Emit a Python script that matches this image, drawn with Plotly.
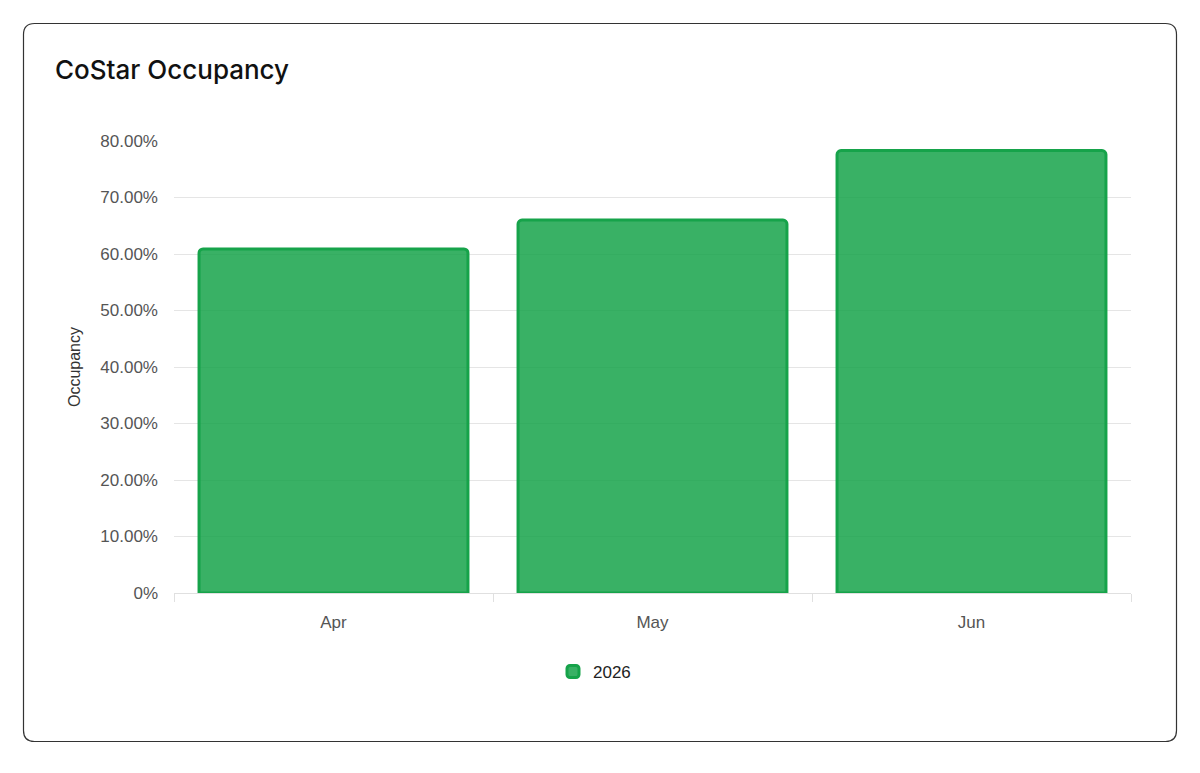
import plotly.graph_objects as go

months = ["Apr", "May", "Jun"]
occupancy_2026 = [0.609, 0.660, 0.783]
y_ticks = [0, 0.1, 0.2, 0.3, 0.4, 0.5, 0.6, 0.7, 0.8]
y_tick_text = ["0%", "10.00%", "20.00%", "30.00%", "40.00%", "50.00%", "60.00%", "70.00%", "80.00%"]

# the page body has an 8px margin, so the figure is 16px smaller and offset
OFF = 8
W, H = 1200 - 2 * OFF, 773 - 2 * OFF
L, R, T, B = 174 - OFF, W - (1131 - OFF), 141 - OFF, H - (593 - OFF)
pw, ph = W - L - R, H - T - B


def px_x(x):
    return (x - OFF - L) / pw


def px_y(y):
    return (H - B - (y - OFF)) / ph


def card_path(x0, y0, x1, y1, r):
    # rounded rectangle in paper coords, corners sized in pixels
    rx, ry = r / pw, r / ph
    a, b, c, d = px_x(x0), px_y(y1), px_x(x1), px_y(y0)
    return (f"M{a+rx},{b} L{c-rx},{b} Q{c},{b} {c},{b+ry} L{c},{d-ry} "
            f"Q{c},{d} {c-rx},{d} L{a+rx},{d} Q{a},{d} {a},{d-ry} "
            f"L{a},{b+ry} Q{a},{b} {a+rx},{b} Z")


fig = go.Figure()
fig.add_trace(go.Bar(
    x=months, y=occupancy_2026, name="2026",
    marker=dict(color="rgba(22,163,74,0.85)",
                line=dict(color="#16a34a", width=3)),
    hovertemplate="%{x}: %{y:.2%}<extra>2026</extra>",
))

fig.update_layout(
    width=W, height=H,
    margin=dict(l=L, r=R, t=T, b=B),
    paper_bgcolor="white", plot_bgcolor="white",
    barcornerradius=4,
    bargap=0.157,
    title=dict(text="CoStar Occupancy", x=(55 - OFF) / W, xanchor="left",
               y=1 - (70 - OFF) / H, yanchor="middle", xref="container", yref="container",
               font=dict(family="Inter, Noto Sans, sans-serif", size=26, color="#111", weight=500)),
    font=dict(family="Liberation Sans, Arial, sans-serif", size=17, color="#555"),
    showlegend=True,
    legend=dict(orientation="h", x=px_x(553), xanchor="left", y=px_y(672), yanchor="middle",
                font=dict(size=17, color="#222"), bgcolor="rgba(0,0,0,0)"),
    shapes=[dict(type="path", xref="paper", yref="paper", layer="below",
                 path=card_path(23.5, 23.5, 1176.5, 741.5, 11),
                 line=dict(color="#333", width=1.2), fillcolor="rgba(0,0,0,0)")],
)

fig.update_xaxes(
    showgrid=False, showline=True, linecolor="#e0e0e0", linewidth=1,
    ticks="outside", tickson="boundaries", ticklen=8, tickcolor="#e0e0e0",
    tickfont=dict(size=17, color="#555"), ticklabelstandoff=14,
)
fig.update_yaxes(
    range=[0, 0.8], tickvals=y_ticks, ticktext=y_tick_text,
    showgrid=True, gridcolor="#e5e5e5", gridwidth=1, zeroline=False,
    ticks="", tickfont=dict(size=17, color="#555"), ticklabelstandoff=15,
    title=dict(text="Occupancy", font=dict(size=16, color="#333"), standoff=15),
)

fig.write_html("out.html")
